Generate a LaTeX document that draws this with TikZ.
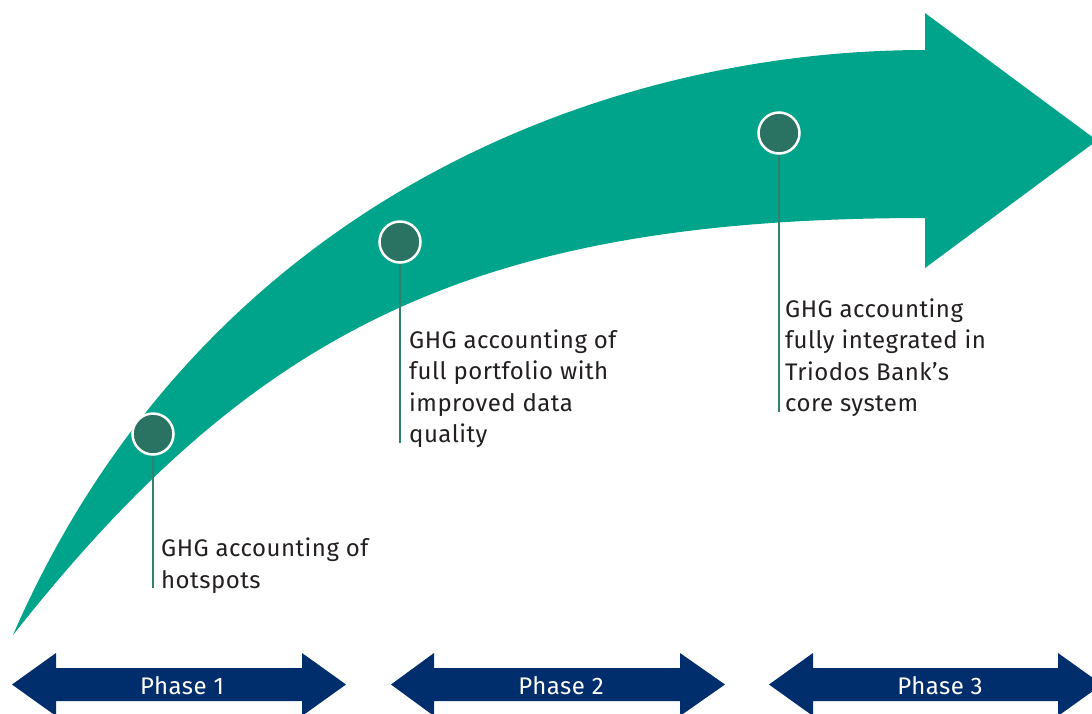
\documentclass[tikz,border=0pt]{standalone}
\usepackage{fontspec}
\setmainfont{Fira Sans}
\newfontfamily\labelfont[LetterSpace=2]{Fira Sans}
\definecolor{leafgreen}{HTML}{00A48A}
\definecolor{nodegreen}{HTML}{2A7262}
\definecolor{stemgreen}{HTML}{32806E}
\definecolor{phasenavy}{HTML}{002D6B}
\definecolor{bodytext}{HTML}{231F20}
\begin{document}
\begin{tikzpicture}[x=1pt,y=-1pt,
  milestone/.style={circle, fill=nodegreen, draw=white, line width=2.5pt,
    minimum size=41pt, inner sep=0pt},
  stem/.style={draw=stemgreen, line width=2.2pt},
  note/.style={anchor=base west, align=left, inner sep=0pt, text=bodytext,
    font=\labelfont\fontsize{24}{31.5}\selectfont},
  phasebar/.style={fill=phasenavy},
  phaselabel/.style={anchor=base, inner sep=0pt, text=white,
    font=\labelfont\fontsize{24}{26}\selectfont}]
\useasboundingbox (0,0) rectangle (1092,713);

% rising growth arrow
\fill[leafgreen] (13,635) .. controls (200,205) and (600,50) .. (925,50)
  -- (925,13) -- (1097,140.5) -- (925,268) -- (925,218)
  .. controls (477,218) and (256,327) .. (13,635) -- cycle;

% milestones and their stems
\node[milestone] (m1) at (153,434) {};
\node[milestone] (m2) at (400,242) {};
\node[milestone] (m3) at (779,133) {};

\coordinate (e1) at (153,588);
\coordinate (e2) at (400,443);
\coordinate (e3) at (779,412);

\draw[stem] (m1.south) -- (e1);
\draw[stem] (m2.south) -- (e2);
\draw[stem] (m3.south) -- (e3);

% milestone notes (anchored at the baseline of the last line)
\node[note] (t1) at (161,588) {GHG accounting of\\hotspots};
\node[note] (t2) at (409,442.5) {GHG accounting of\\full portfolio with\\improved data\\quality};
\node[note] (t3) at (785,411.5) {GHG accounting\\fully integrated in\\Triodos Bank’s\\core system};

% phase bars
\fill[phasebar] (12,684.5) -- (56,653) -- (56,668) -- (302,668) -- (302,653)
  -- (346,684.5) -- (302,716) -- (302,701) -- (56,701) -- (56,716) -- cycle;
\fill[phasebar] (391,684.5) -- (434,653) -- (434,668) -- (680,668) -- (680,653)
  -- (725,684.5) -- (680,716) -- (680,701) -- (434,701) -- (434,716) -- cycle;
\fill[phasebar] (769,684.5) -- (813,653) -- (813,668) -- (1058,668) -- (1058,653)
  -- (1102,684.5) -- (1058,716) -- (1058,701) -- (813,701) -- (813,716) -- cycle;

\node[phaselabel] (p1) at (182,694) {Phase 1};
\node[phaselabel] (p2) at (561,694) {Phase 2};
\node[phaselabel] (p3) at (940,694) {Phase 3};
\end{tikzpicture}
\end{document}
